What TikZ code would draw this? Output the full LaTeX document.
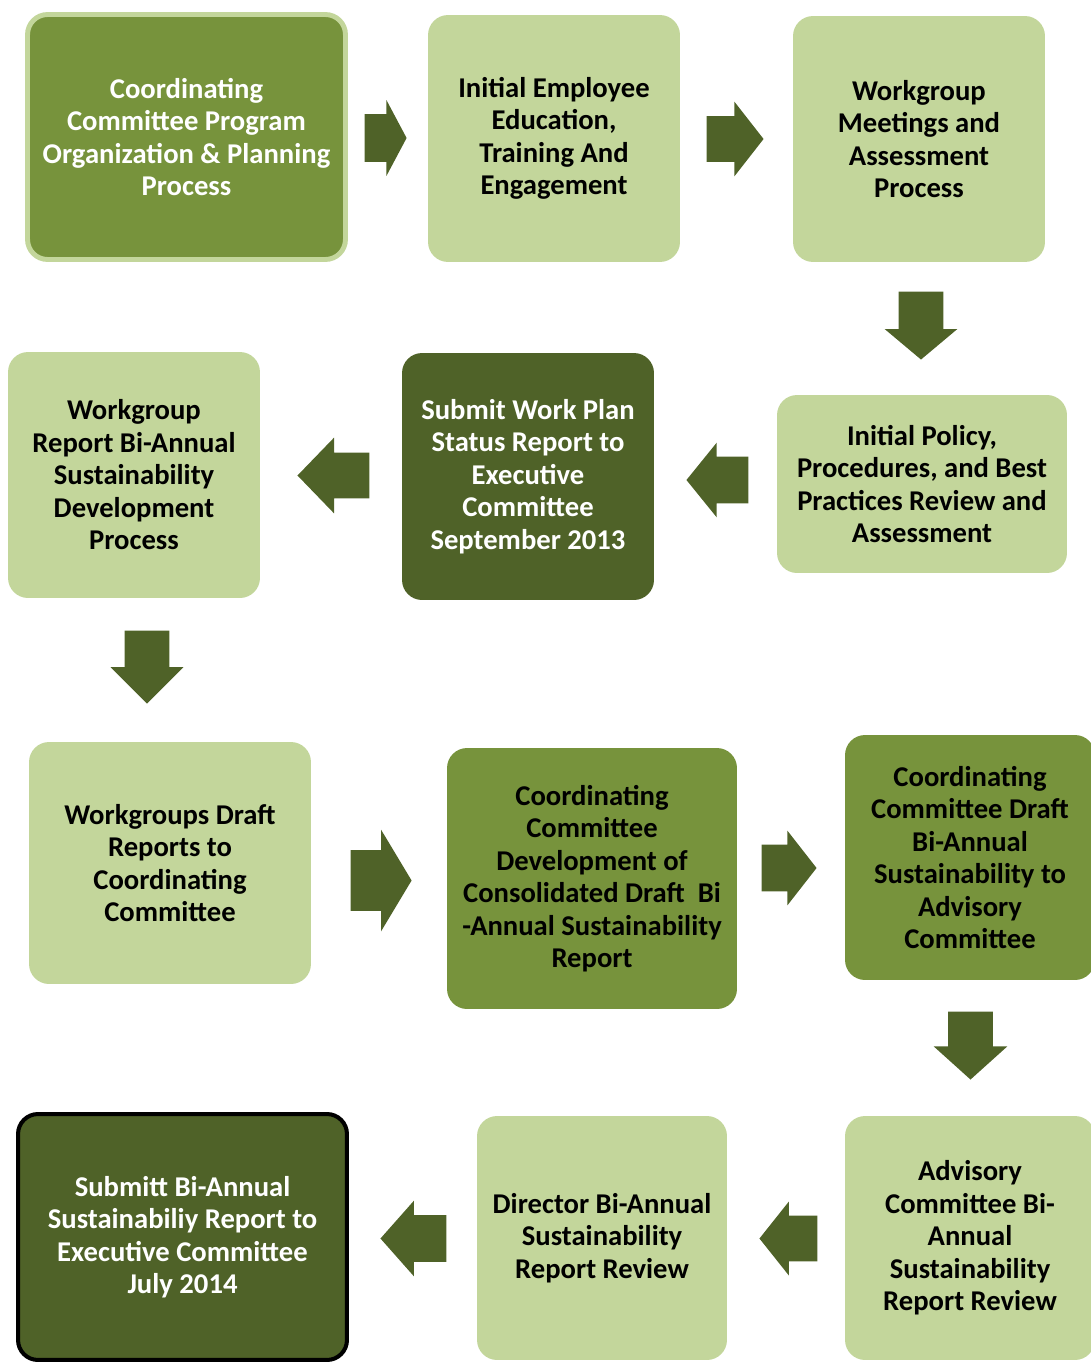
\documentclass[tikz,border=0pt]{standalone}
\usepackage{fontspec}
\setmainfont{Carlito}
\usetikzlibrary{shapes.arrows}
\definecolor{lightgreen}{HTML}{C3D69B}
\definecolor{midgreen}{HTML}{77933C}
\definecolor{darkgreen}{HTML}{4F6228}
\tikzset{
	box/.style={rounded corners=0.4cm, align=center, inner sep=0pt, font=\bfseries\fontsize{16.3}{18.5}\selectfont},
	light/.style={box, fill=lightgreen, text=black},
	mid/.style={box, fill=midgreen, text=black},
	dark/.style={box, fill=darkgreen, text=white},
	flow/.style={single arrow, fill=darkgreen, single arrow head indent=0pt, anchor=tip},
	across/.style={flow, inner xsep=0pt, inner ysep=#1},
	downward/.style={flow, inner ysep=0pt, inner xsep=#1, shape border rotate=270}
}

\begin{document}
\begin{tikzpicture}[x=0.02cm, y=-0.02cm]
	\useasboundingbox (0,0) rectangle (1091,1362);
	\node[mid, text=white, draw=lightgreen, line width=2.8pt, minimum width=6.36cm, minimum height=4.9cm] (plan) at (186.5,137) {Coordinating\\Committee Program\\Organization \& Planning\\Process};
	\node[light, minimum width=5.04cm, minimum height=4.94cm] (train) at (554,138.5) {Initial Employee\\Education,\\Training And\\Engagement};
	\node[light, minimum width=5.04cm, minimum height=4.92cm] (meet) at (919,139) {Workgroup\\Meetings and\\Assessment\\Process};
		\node[light, minimum width=5.8cm, minimum height=3.56cm] (policy) at (922,484) {Initial Policy,\\Procedures, and Best\\Practices Review and\\Assessment};
		\node[dark, minimum width=5.04cm, minimum height=4.94cm] (status) at (528,476.5) {Submit Work Plan\\Status Report to\\Executive\\Committee\\September 2013};
		\node[light, minimum width=5.04cm, minimum height=4.92cm] (wgreport) at (134,475) {Workgroup\\Report Bi-Annual\\Sustainability\\Development\\Process};
			\node[light, minimum width=5.64cm, minimum height=4.84cm] (drafts) at (170,863) {Workgroups Draft\\Reports to\\Coordinating\\Committee};
			\node[mid, minimum width=5.8cm, minimum height=5.22cm] (consol) at (592,878.5) {Coordinating\\Committee\\Development of\\Consolidated Draft~ Bi\\-Annual Sustainability\\Report};
			\node[mid, minimum width=5.0cm, minimum height=4.9cm] (ccdraft) at (970,857.5) {Coordinating\\Committee Draft\\Bi-Annual\\Sustainability to\\Advisory\\Committee};
				\node[dark, text=white, draw=black, line width=2.3pt, minimum width=6.58cm, minimum height=4.92cm] (submit) at (182.5,1237) {Submitt Bi-Annual\\Sustainabiliy Report to\\Executive Committee\\July 2014};
				\node[light, minimum width=5.0cm, minimum height=4.88cm] (director) at (602,1238) {Director Bi-Annual\\Sustainability\\Report Review};
				\node[light, minimum width=5.0cm, minimum height=4.88cm] (advisory) at (970,1238) {Advisory\\Committee Bi-\\Annual\\Sustainability\\Report Review};
	\node[across=0.47cm, minimum height=0.84cm, single arrow head extend=0.28cm, single arrow tip angle=124] (a1) at (407,138) {};
	\node[across=0.45cm, minimum height=1.14cm, single arrow head extend=0.29cm, single arrow tip angle=104] (a2) at (764,139) {};
	\node[downward=0.44cm, minimum height=1.36cm, single arrow head extend=0.28cm, single arrow tip angle=100] (a3) at (921,360) {};
	\node[across=0.46cm, minimum height=1.24cm, single arrow head extend=0.28cm, single arrow tip angle=102, shape border rotate=180] (a4) at (686,480) {};
	\node[across=0.45cm, minimum height=1.44cm, single arrow head extend=0.3cm, single arrow tip angle=92, shape border rotate=180] (a5) at (297,475.5) {};
	\node[downward=0.44cm, minimum height=1.46cm, single arrow head extend=0.28cm, single arrow tip angle=90] (a6) at (147,704) {};
	\node[across=0.6cm, minimum height=1.22cm, single arrow head extend=0.41cm, single arrow tip angle=118] (a7) at (412,880.5) {};
	\node[across=0.46cm, minimum height=1.1cm, single arrow head extend=0.28cm, single arrow tip angle=104] (a8) at (817,868) {};
	\node[downward=0.44cm, minimum height=1.36cm, single arrow head extend=0.29cm, single arrow tip angle=96] (a9) at (970.5,1080) {};
	\node[across=0.46cm, minimum height=1.32cm, single arrow head extend=0.29cm, single arrow tip angle=97, shape border rotate=180] (a10) at (380,1238.5) {};
	\node[across=0.45cm, minimum height=1.16cm, single arrow head extend=0.28cm, single arrow tip angle=103, shape border rotate=180] (a11) at (759,1238.5) {};
\end{tikzpicture}
\end{document}
